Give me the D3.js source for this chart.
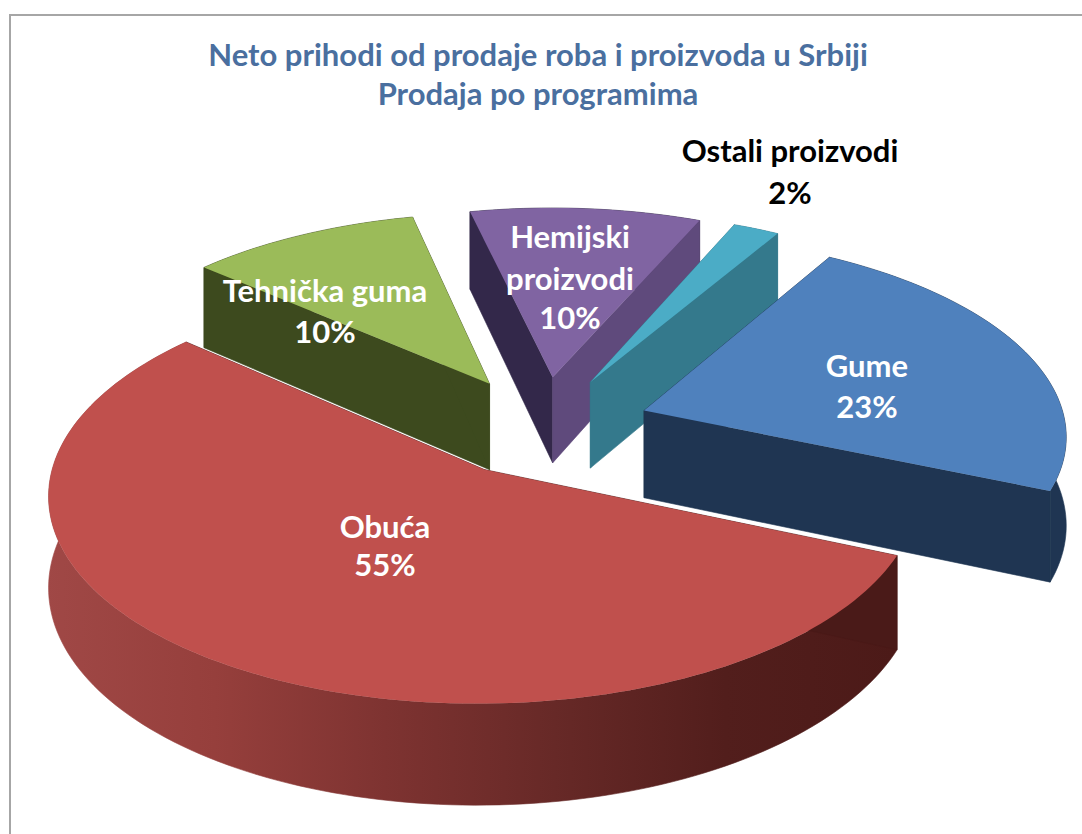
<!DOCTYPE html>
<html><head><meta charset="utf-8">
<script src="https://cdn.jsdelivr.net/npm/d3@7/dist/d3.min.js"></script>
<style>html,body{margin:0;padding:0;background:#fff;overflow:hidden}svg{display:block}text{font-family:Lato,"Open Sans",sans-serif;font-weight:700;text-anchor:middle}</style>
</head><body><div id="c"></div>
<script>
const titleLines = ["Neto prihodi od prodaje roba i proizvoda u Srbiji", "Prodaja po programima"];
const categories = ["Gume", "Obuća", "Tehnička guma", "Hemijski proizvodi", "Ostali proizvodi"];
const values = [23, 55, 10, 10, 2];
const topColors = ["#4f81bd", "#c0504d", "#9bbb59", "#8064a2", "#4bacc6"];
const startWallColors = ["#1f3552", "#4a1a18", "#3d4a1e", "#33284a", "#34798c"];
const endWallColors = ["#1f3552", "#4a1a18", "#3d4a1e", "#5f4a7c", "#34798c"];
const drawOrder = [3, 4, 2, 0, 1];

const W = 1082, H = 834;
const svg = d3.select("#c").append("svg").attr("width", W).attr("height", H);
svg.append("path").attr("d", "M10 836V15H1084").attr("fill", "none").attr("stroke", "#a6a6a6").attr("stroke-width", 2);

const defs = svg.append("defs");
const g = defs.append("linearGradient").attr("id", "redWall").attr("gradientUnits", "userSpaceOnUse")
  .attr("x1", 45).attr("x2", 895).attr("y1", 0).attr("y2", 0);
[[0, "#a04846"], [0.2, "#963f3c"], [0.4, "#7e3331"], [0.6, "#672927"], [0.8, "#521e1c"], [1, "#4c1a18"]]
  .forEach(s => g.append("stop").attr("offset", s[0]).attr("stop-color", s[1]));

const cx = 543, cy = 426, R = 422, depth = 88, explode = 0.254, persp = 0.11;
const xs = d3.scaleLinear().domain([-1, 1]).range([-R, R]);
const ys = d3.scaleLinear().domain([-1, 1]).range([-198, 198]);
function project(U, V, lift) {
  const s = 1 / (1 - persp * V);
  return [cx + xs(U) * s, cy + ys(V) * s + (lift ? depth * s : 0)];
}
const startDeg = 30.5;
const pie = d3.pie().sort(null).startAngle(startDeg * Math.PI / 180).endAngle((startDeg + 360) * Math.PI / 180);
const arcs = pie(values);
const line = d3.line();

const layer = svg.append("g");
drawOrder.forEach(i => {
  const a = arcs[i];
  const mid = (a.startAngle + a.endAngle) / 2;
  const ou = Math.sin(mid) * explode, ov = -Math.cos(mid) * explode;
  const n = Math.max(6, Math.ceil((a.endAngle - a.startAngle) * 40));
  const rim = d3.range(n + 1).map(k => {
    const t = a.startAngle + (a.endAngle - a.startAngle) * k / n;
    return [ou + Math.sin(t), ov - Math.cos(t)];
  });
  const top = rim.map(p => project(p[0], p[1], false));
  const bot = rim.map(p => project(p[0], p[1], true));
  const apexT = project(ou, ov, false), apexB = project(ou, ov, true);
  const sel = layer.append("g");
  const fillOuter = i === 1 ? "url(#redWall)" : startWallColors[i];
  sel.append("path").attr("d", line(top.concat(bot.slice().reverse())) + "Z").attr("fill", fillOuter).attr("stroke", fillOuter).attr("stroke-width", .6);
  sel.append("path").attr("d", line([apexT, top[0], bot[0], apexB]) + "Z").attr("fill", startWallColors[i]).attr("stroke", startWallColors[i]).attr("stroke-width", .6);
  sel.append("path").attr("d", line([apexT, top[n], bot[n], apexB]) + "Z").attr("fill", endWallColors[i]).attr("stroke", endWallColors[i]).attr("stroke-width", .6);
  sel.append("path").attr("d", line([apexT].concat(top)) + "Z").attr("fill", topColors[i]);
});

const labelRows = [
  {lines: ["Gume", "23%"], x: 867, y: [377, 418], c: "#fff"},
  {lines: ["Obuća", "55%"], x: 385, y: [538, 576], c: "#fff"},
  {lines: ["Tehnička guma", "10%"], x: 325, y: [302, 343], c: "#fff"},
  {lines: ["Hemijski", "proizvodi", "10%"], x: 570, y: [248, 290, 329], c: "#fff"},
  {lines: ["Ostali proizvodi", "2%"], x: 790, y: [162, 204], c: "#000"}
];
labelRows.forEach(l => l.lines.forEach((t, k) => {
  svg.append("text").attr("x", l.x).attr("y", l.y[k]).attr("font-size", 31).attr("fill", l.c).text(t);
}));
titleLines.forEach((t, k) => {
  svg.append("text").attr("x", 538).attr("y", [66, 105][k]).attr("font-size", 31).attr("fill", "#4a6f9f").text(t);
});
</script></body></html>
